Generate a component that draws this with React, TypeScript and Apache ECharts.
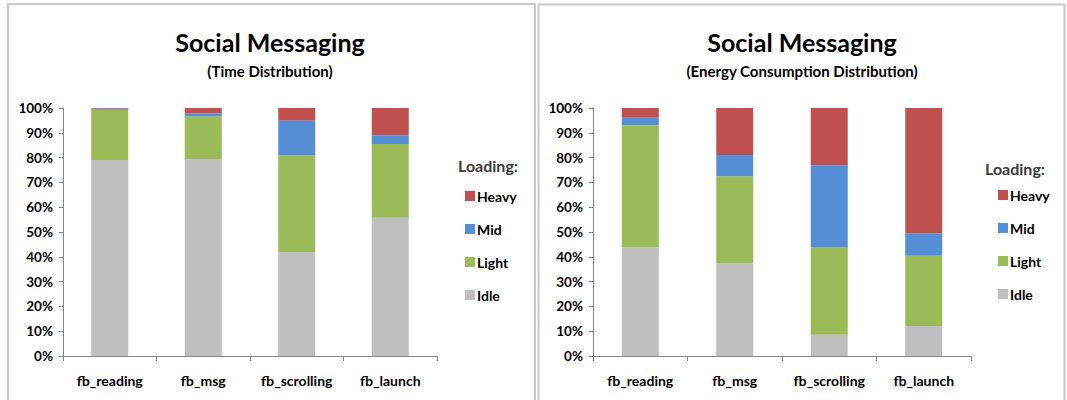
import React, { useEffect, useRef } from "react";
import * as echarts from "echarts";

const categories = ["fb_reading", "fb_msg", "fb_scrolling", "fb_launch"];
const yTicks = ["0%", "10%", "20%", "30%", "40%", "50%", "60%", "70%", "80%", "90%", "100%"];
const levels = ["Heavy", "Mid", "Light", "Idle"];

// Time distribution (%)
const timeIdle = [79.0, 79.4, 41.9, 55.7];
const timeLight = [20.3, 17.2, 38.9, 29.8];
const timeMid = [0.4, 1.2, 14.1, 3.5];
const timeHeavy = [0.3, 2.2, 5.1, 11.0];

// Energy consumption distribution (%)
const energyIdle = [43.7, 37.3, 8.6, 12.1];
const energyLight = [49.3, 35.1, 35.1, 28.3];
const energyMid = [3.1, 8.6, 33.2, 9.0];
const energyHeavy = [3.9, 19.0, 23.1, 50.6];

const colors: Record<string, string> = {
  Idle: "#BFBFBF",
  Light: "#9BBB59",
  Mid: "#558ED5",
  Heavy: "#C0504D",
};

const FONT = "Lato, 'Open Sans', sans-serif";

export default function App() {
  const ref = useRef<HTMLDivElement>(null);
  useEffect(() => {
    if (!ref.current) return;
    const chart = echarts.init(ref.current, undefined, { renderer: "svg" });

    const grids = [
      { left: 63, width: 374, top: 108, height: 248 },
      { left: 593, width: 378, top: 108, height: 248 },
    ];

    const xAxis = grids.map((_, i) => ({
      type: "category",
      gridIndex: i,
      data: categories,
      axisLine: { lineStyle: { color: "#868686", width: 1 } },
      axisTick: { show: true, length: 5, lineStyle: { color: "#868686" } },
      axisLabel: {
        color: "#000",
        fontFamily: FONT,
        fontWeight: "bold",
        fontSize: 14,
        margin: 17,
      },
    }));

    const yAxis = grids.map((_, i) => ({
      type: "value",
      gridIndex: i,
      min: 0,
      max: 100,
      interval: 10,
      axisLine: { show: true, lineStyle: { color: "#868686", width: 1 } },
      axisTick: { show: true, length: 4, lineStyle: { color: "#868686" } },
      splitLine: { show: false },
      axisLabel: {
        color: "#000",
        fontFamily: FONT,
        fontWeight: "bold",
        fontSize: 13.5,
        margin: 10,
        formatter: (v: number) => yTicks[Math.round(v / 10)],
      },
    }));

    const sets = [
      { Idle: timeIdle, Light: timeLight, Mid: timeMid, Heavy: timeHeavy },
      { Idle: energyIdle, Light: energyLight, Mid: energyMid, Heavy: energyHeavy },
    ];

    const series: any[] = [];
    sets.forEach((set: any, i) => {
      ["Idle", "Light", "Mid", "Heavy"].forEach((lvl) => {
        series.push({
          name: lvl,
          type: "bar",
          stack: "s" + i,
          xAxisIndex: i,
          yAxisIndex: i,
          barWidth: 37,
          data: set[lvl],
          itemStyle: { color: colors[lvl] },
        });
      });
    });

    const titleCenters = [265, 797];

    chart.setOption({
      animation: false,
      backgroundColor: "#fff",
      title: titleCenters.map((c, i) => ({
        text: "Social Messaging",
        subtext: i === 0 ? "(Time Distribution)" : "(Energy Consumption Distribution)",
        left: c,
        textAlign: "center",
        top: 24,
        itemGap: 9,
        textStyle: { fontFamily: FONT, fontSize: 25, fontWeight: "bold", color: "#000" },
        subtextStyle: { fontFamily: FONT, fontSize: 15, fontWeight: "bold", color: "#000" },
      })),
      legend: [
        { left: 460, top: 184 },
        { left: 993, top: 183 },
      ].map((p) => ({
        orient: "vertical",
        left: p.left,
        top: p.top,
        data: levels,
        icon: "rect",
        itemWidth: 10,
        itemHeight: 10,
        itemGap: 19,
        textStyle: { fontFamily: FONT, fontWeight: "bold", fontSize: 14, color: "#000", padding: [0, 0, 0, -3] },
      })),
      grid: grids,
      xAxis,
      yAxis,
      series,
      graphic: [
        { type: "rect", shape: { x: 8, y: 4, width: 527, height: 410 }, style: { fill: "none", stroke: "#c8c8c8", lineWidth: 2 }, silent: true },
        { type: "rect", shape: { x: 538.5, y: 4.5, width: 526, height: 410 }, style: { fill: "none", stroke: "#c8c8c8", lineWidth: 2 }, silent: true },
        { type: "text", left: 458, top: 157, style: { text: "Loading:", font: "bold 16px " + FONT, fill: "#3a3a3a" } },
        { type: "text", left: 985, top: 160, style: { text: "Loading:", font: "bold 16px " + FONT, fill: "#3a3a3a" } },
      ],
    });

    return () => chart.dispose();
  }, []);

  return (
    <div
      ref={ref}
      style={{ position: "fixed", left: 0, top: 0, width: 1067, height: 400 }}
    />
  );
}
